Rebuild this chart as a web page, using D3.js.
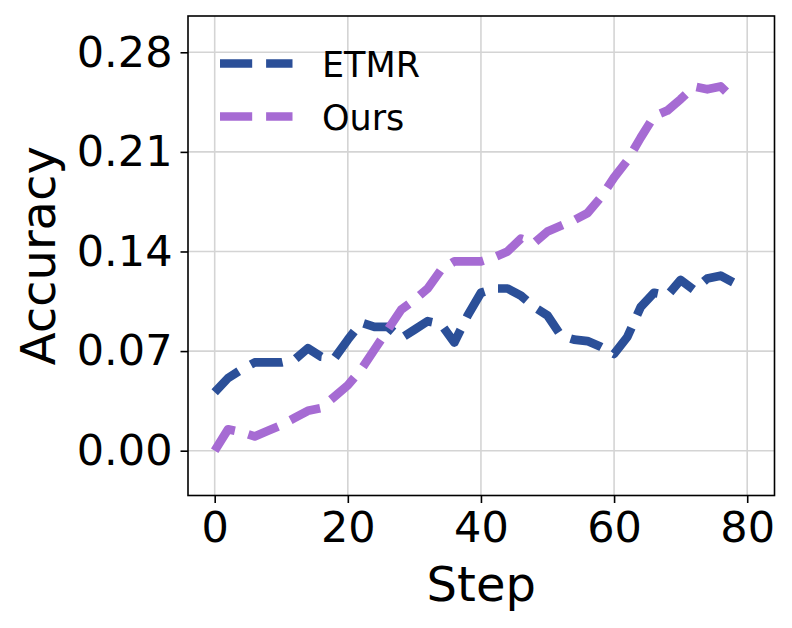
<!DOCTYPE html>
<html>
<head>
<meta charset="utf-8">
<script src="https://cdn.jsdelivr.net/npm/d3@7"></script>
<style>
  html, body { margin: 0; padding: 0; background: #fff; }
  svg { display: block; font-family: "DejaVu Sans", sans-serif; }
</style>
</head>
<body>
<svg id="chart" width="792" height="628"></svg>
<script>
// ---- data ----
const steps = [0,2,4,6,8,10,12,14,16,18,20,22,24,26,28,30,32,34,36,38,40,42,44,46,48,50,52,54,56,58,60,62,64,66,68,70,72,74,76,78];
const etmr = [0.041,0.051,0.057,0.062,0.062,0.062,0.064,0.072,0.066,0.065,0.078,0.090,0.087,0.087,0.079,0.085,0.091,0.089,0.076,0.095,
              0.111,0.114,0.114,0.109,0.101,0.095,0.081,0.078,0.077,0.073,0.068,0.080,0.101,0.111,0.109,0.120,0.113,0.121,0.123,0.118];
const ours = [0.000,0.015,0.013,0.010,0.014,0.018,0.023,0.028,0.030,0.038,0.046,0.057,0.071,0.085,0.099,0.106,0.114,0.127,0.133,0.133,
              0.133,0.136,0.140,0.149,0.146,0.154,0.158,0.162,0.167,0.178,0.192,0.204,0.220,0.235,0.239,0.247,0.256,0.254,0.256,0.247];
const seriesNames = ["ETMR", "Ours"];
const xTicks = [0, 20, 40, 60, 80];
const yTicks = [0.00, 0.07, 0.14, 0.21, 0.28];
const xLabel = "Step";
const yLabel = "Accuracy";

// ---- layout ----
const svg = d3.select("#chart");
const L = 188, R = 774.5, T = 16, B = 495.5;
const x = d3.scaleLinear().domain([-4.01, 84.1]).range([L, R]);
const y = d3.scaleLinear().domain([-0.0315, 0.3055]).range([B, T]);
const colors = ["#2b4f98", "#a66bd3"];
const lw = 8.7;
const dash = `${3.7*lw},${1.6*lw}`;

// grid
const g = svg.append("g");
g.selectAll(".gx").data(xTicks).join("line")
  .attr("x1", d => x(d)).attr("x2", d => x(d)).attr("y1", T).attr("y2", B)
  .attr("stroke", "#d4d4d4").attr("stroke-width", 1.6);
g.selectAll(".gy").data(yTicks).join("line")
  .attr("y1", d => y(d)).attr("y2", d => y(d)).attr("x1", L).attr("x2", R)
  .attr("stroke", "#d4d4d4").attr("stroke-width", 1.6);

// lines
const line = d3.line().x((d, i) => x(steps[i])).y(d => y(d)).curve(d3.curveLinear);
[etmr, ours].forEach((vals, k) => {
  svg.append("path").datum(vals)
    .attr("d", line)
    .attr("fill", "none")
    .attr("stroke", colors[k])
    .attr("stroke-width", lw)
    .attr("stroke-dasharray", dash)
    .attr("stroke-linejoin", "round")
    .attr("stroke-linecap", "butt");
});

// spines
svg.append("rect").attr("x", L).attr("y", T).attr("width", R - L).attr("height", B - T)
  .attr("fill", "none").attr("stroke", "#000").attr("stroke-width", 1.6);

// axes
const xAxis = d3.axisBottom(x).tickValues(xTicks).tickSize(7.5).tickPadding(8).tickFormat(d3.format("d"));
const yAxis = d3.axisLeft(y).tickValues(yTicks).tickSize(7.5).tickPadding(8).tickFormat(d3.format(".2f"));
const gx = svg.append("g").attr("transform", `translate(0,${B})`).call(xAxis);
const gy = svg.append("g").attr("transform", `translate(${L},0)`).call(yAxis);
[gx, gy].forEach(a => {
  a.select(".domain").remove();
  a.selectAll(".tick line").attr("stroke", "#000").attr("stroke-width", 1.6);
  a.selectAll(".tick text").attr("fill", "#000").attr("font-size", 43)
    .attr("font-family", "DejaVu Sans, sans-serif");
});

// axis labels
svg.append("text").attr("x", (L + R) / 2).attr("y", 601).attr("text-anchor", "middle")
  .attr("font-size", 48).attr("fill", "#000").text(xLabel);
svg.append("text").attr("transform", `translate(55,${(T + B) / 2}) rotate(-90)`)
  .attr("text-anchor", "middle").attr("font-size", 48).attr("fill", "#000").text(yLabel);

// legend
const leg = svg.append("g");
const legY = [63.5, 116.5];
seriesNames.forEach((name, k) => {
  leg.append("line").attr("x1", 220).attr("x2", 292.5).attr("y1", legY[k]).attr("y2", legY[k])
    .attr("stroke", colors[k]).attr("stroke-width", lw).attr("stroke-dasharray", dash);
  leg.append("text").attr("x", 322).attr("y", legY[k] + 13).attr("font-size", 35)
    .attr("fill", "#000").text(name);
});
</script>
</body>
</html>
